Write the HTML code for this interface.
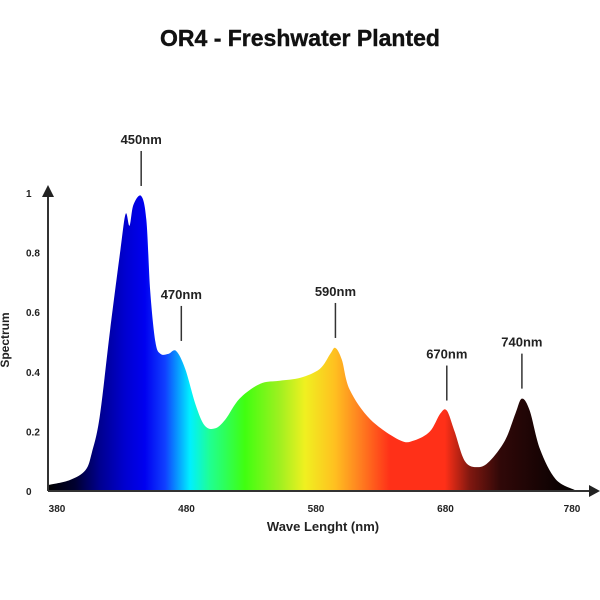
<!DOCTYPE html>
<html><head><meta charset="utf-8"><style>
body{margin:0;background:#fff;}
svg{display:block;font-family:"Liberation Sans",sans-serif;font-weight:bold;}
</style></head><body>
<svg id="c" width="600" height="600">
<defs>
<linearGradient id="g" gradientUnits="userSpaceOnUse" x1="48" y1="0" x2="580" y2="0">
<stop offset="0" stop-color="#000"/>
<stop offset="0.051" stop-color="#000030"/>
<stop offset="0.098" stop-color="#000090"/>
<stop offset="0.145" stop-color="#0000d0"/>
<stop offset="0.182" stop-color="#0000f0"/>
<stop offset="0.22" stop-color="#1040ff"/>
<stop offset="0.267" stop-color="#00f0ff"/>
<stop offset="0.305" stop-color="#20ff90"/>
<stop offset="0.37" stop-color="#40ff10"/>
<stop offset="0.436" stop-color="#a0f020"/>
<stop offset="0.483" stop-color="#f0f020"/>
<stop offset="0.539" stop-color="#ffc020"/>
<stop offset="0.586" stop-color="#ff8020"/>
<stop offset="0.643" stop-color="#ff3018"/>
<stop offset="0.746" stop-color="#ff3018"/>
<stop offset="0.793" stop-color="#801810"/>
<stop offset="0.85" stop-color="#300808"/>
<stop offset="1" stop-color="#000"/>
</linearGradient>
</defs>
<text x="300" y="46" text-anchor="middle" font-size="23" fill="#111" stroke="#111" stroke-width="0.4">OR4 - Freshwater Planted</text>
<path id="area" fill="url(#g)"/>
<g id="ticks"></g>
<g id="ann"></g>
<line x1="48" y1="491" x2="48" y2="196" stroke="#333" stroke-width="2"/>
<polygon points="42,197 48,185 54,197" fill="#222"/>
<line x1="48" y1="491" x2="590" y2="491" stroke="#333" stroke-width="2"/>
<polygon points="589,485 600,491 589,497" fill="#222"/>
<text x="323" y="531" text-anchor="middle" font-size="13" fill="#222">Wave Lenght (nm)</text>
<text transform="translate(9,340) rotate(-90)" text-anchor="middle" font-size="12" fill="#222">Spectrum</text>
</svg>
<script>
const wavelengths=[373,390,402,407,413,421,429,433,436,439,445,449,452,456,460,466,472,479,487,494,502,510,521,537,552,568,583,591,595,600,606,622,645,656,668,676,681,687,695,705,714,726,734,739,745,753,765,780];
const intensity=[0.02,0.037,0.07,0.13,0.25,0.54,0.81,0.93,0.89,0.96,0.99,0.91,0.67,0.50,0.46,0.46,0.47,0.41,0.29,0.22,0.21,0.24,0.31,0.36,0.37,0.38,0.41,0.46,0.48,0.44,0.34,0.24,0.17,0.17,0.20,0.26,0.27,0.20,0.10,0.08,0.10,0.17,0.26,0.31,0.27,0.14,0.04,0.003];
const xTicks=[380,480,580,680,780];
const yTicks=[0,0.2,0.4,0.6,0.8,1];
const peakLabels=["450nm","470nm","590nm","670nm","740nm"];
const peakNm=[445,476,595,681,739];
const peakVals=[0.99,0.47,0.48,0.27,0.31];
const X=nm=>57+1.295*(nm-380);
const Y=v=>491-298*v;
const NS="http://www.w3.org/2000/svg";
const pts=wavelengths.map((w,i)=>[Math.max(48,X(w)),Y(intensity[i])]);
let d=`M${pts[0][0]},491 L${pts[0][0]},${pts[0][1]}`;
for(let i=0;i<pts.length-1;i++){
 const p0=pts[i-1]||pts[i],p1=pts[i],p2=pts[i+1],p3=pts[i+2]||p2;
 d+=` C${p1[0]+(p2[0]-p0[0])/6},${p1[1]+(p2[1]-p0[1])/6} ${p2[0]-(p3[0]-p1[0])/6},${p2[1]-(p3[1]-p1[1])/6} ${p2[0]},${p2[1]}`;
}
d+=` L${pts[pts.length-1][0]},491 Z`;
document.getElementById('area').setAttribute('d',d);
const tg=document.getElementById('ticks');
xTicks.forEach(t=>{const e=document.createElementNS(NS,'text');


e.setAttribute('x',X(t)+(t===780?-3:0));e.setAttribute('y',512);e.setAttribute('text-anchor','middle');e.setAttribute('font-size','10');e.setAttribute('fill','#222');e.textContent=t;tg.appendChild(e);});
yTicks.forEach(t=>{const e=document.createElementNS(NS,'text');


e.setAttribute('x',26);e.setAttribute('y',Y(t)+4);e.setAttribute('font-size','10');e.setAttribute('fill','#222');e.textContent=t;tg.appendChild(e);});
const ag=document.getElementById('ann');
peakNm.forEach((nm,i)=>{const x=X(nm),top=Y(peakVals[i]);
const l=document.createElementNS(NS,'line');


l.setAttribute('x1',x);l.setAttribute('x2',x);l.setAttribute('y1',top-45);l.setAttribute('y2',top-10);l.setAttribute('stroke','#333');l.setAttribute('stroke-width','1.5');ag.appendChild(l);
const t=document.createElementNS(NS,'text');


t.setAttribute('x',x);t.setAttribute('y',top-52);t.setAttribute('text-anchor','middle');t.setAttribute('font-size','13');t.setAttribute('fill','#222');t.textContent=peakLabels[i];ag.appendChild(t);});
</script>
</body></html>
